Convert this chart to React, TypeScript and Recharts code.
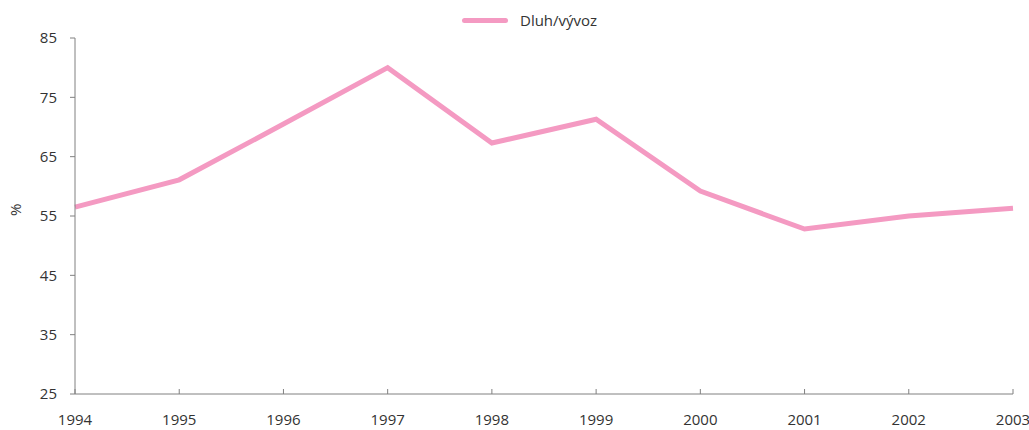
import { LineChart, Line, XAxis, YAxis } from "recharts";

const years = ["1994", "1995", "1996", "1997", "1998", "1999", "2000", "2001", "2002", "2003"];
const debtToExports = [56.5, 61.1, 70.5, 80.0, 67.3, 71.3, 59.2, 52.8, 55.0, 56.3];
const yTicks = [25, 35, 45, 55, 65, 75, 85];

const seriesName = "Dluh/vývoz";
const pink = "#F49AC2";
const axisGrey = "#808080";
const font = "'Open Sans', sans-serif";

const chartData = years.map((year, i) => ({ year, value: debtToExports[i] }));

const XTick = (props: any) => {
  const { x, y, payload } = props;
  const axisY = y - 20;
  return (
    <g>
      <line x1={x} y1={axisY} x2={x} y2={axisY - 5} stroke={axisGrey} strokeWidth={1} />
      <text x={x} y={y} dy="0.71em" textAnchor="middle" fill="#333" fontSize={15} fontFamily={font}>
        {payload.value}
      </text>
    </g>
  );
};

export default function App() {
  return (
    <div style={{ position: "absolute", left: 0, top: 0, width: 1029, height: 430, background: "#fff" }}>
      <div
        style={{
          position: "absolute",
          top: 10,
          left: 462,
          display: "flex",
          alignItems: "center",
          fontFamily: font,
          fontSize: 15,
          color: "#333",
        }}
      >
        <span style={{ display: "inline-block", width: 46, height: 5, borderRadius: 3, background: pink, marginRight: 12 }} />
        {seriesName}
      </div>
      <LineChart width={1029} height={430} data={chartData} margin={{ top: 38, right: 16, left: 0, bottom: 0 }}>
        <XAxis
          dataKey="year"
          height={36}
          interval={0}
          padding={{ left: 0, right: 0 }}
          stroke={axisGrey}
          tickLine={false}
          tickSize={0}
          tickMargin={20}
          tick={<XTick />}
        />
        <YAxis
          width={75}
          domain={[25, 85]}
          ticks={yTicks}
          interval={0}
          stroke={axisGrey}
          tickSize={5}
          tickMargin={13}
          tick={{ fill: "#333", fontSize: 15, fontFamily: font }}
          label={{ value: "%", angle: -90, position: "insideLeft", offset: 16, style: { fill: "#333", fontSize: 15, fontFamily: font } }}
        />
        <Line
          type="linear"
          dataKey="value"
          name={seriesName}
          stroke={pink}
          strokeWidth={5}
          dot={false}
          isAnimationActive={false}
        />
      </LineChart>
    </div>
  );
}
